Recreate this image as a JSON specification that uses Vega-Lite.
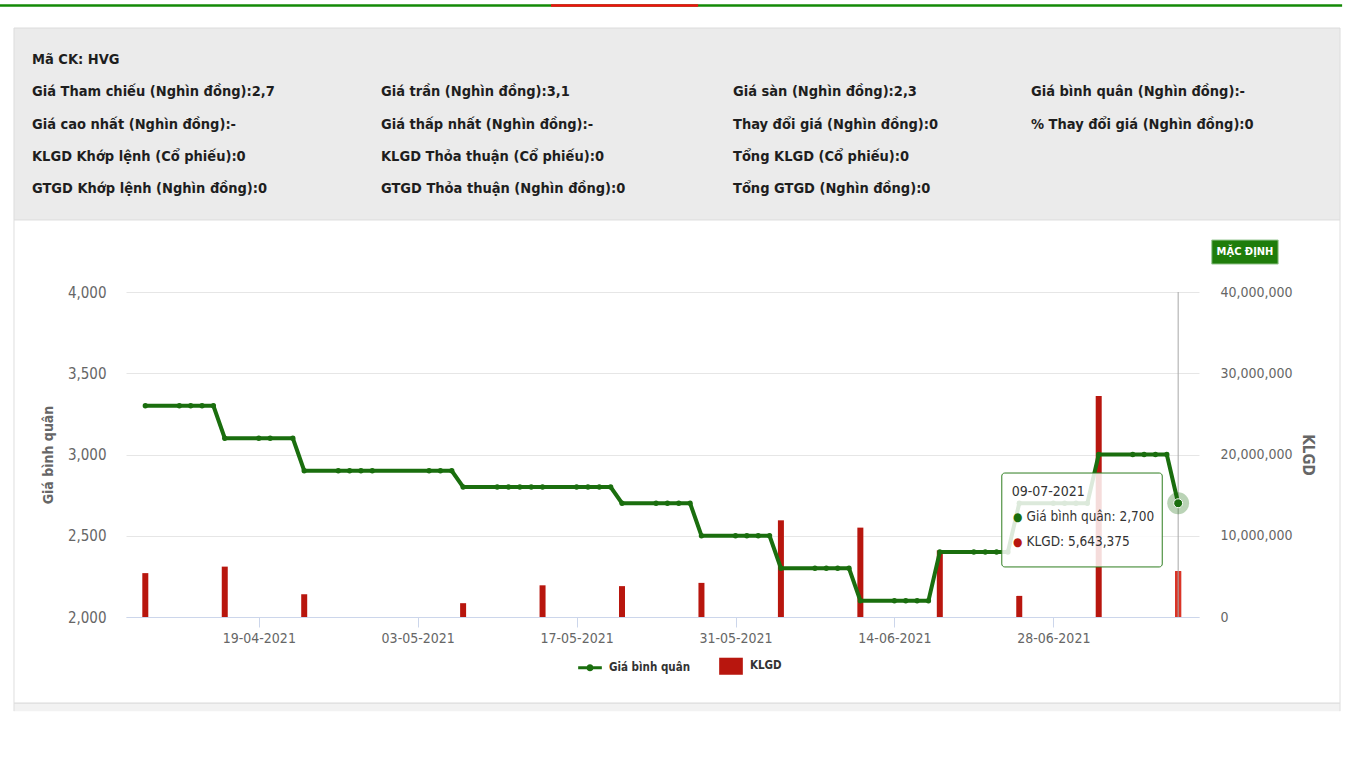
{
  "$schema": "https://vega.github.io/schema/vega-lite/v6.json",
  "width": 1073,
  "height": 325,
  "autosize": {"type": "none"},
  "padding": {"left": 126, "top": 292, "right": 167, "bottom": 151},
  "background": "white",
  "config": {
    "font": "Liberation Sans Narrow, DejaVu Sans Condensed, sans-serif",
    "view": {"stroke": null}
  },
  "datasets": {
    "trade": [
      {"date": "2021-04-09", "price": 3300, "volume": 5400000},
      {"date": "2021-04-12", "price": 3300, "volume": 0},
      {"date": "2021-04-13", "price": 3300, "volume": 0},
      {"date": "2021-04-14", "price": 3300, "volume": 0},
      {"date": "2021-04-15", "price": 3300, "volume": 0},
      {"date": "2021-04-16", "price": 3100, "volume": 6200000},
      {"date": "2021-04-19", "price": 3100, "volume": 0},
      {"date": "2021-04-20", "price": 3100, "volume": 0},
      {"date": "2021-04-22", "price": 3100, "volume": 0},
      {"date": "2021-04-23", "price": 2900, "volume": 2800000},
      {"date": "2021-04-26", "price": 2900, "volume": 0},
      {"date": "2021-04-27", "price": 2900, "volume": 0},
      {"date": "2021-04-28", "price": 2900, "volume": 0},
      {"date": "2021-04-29", "price": 2900, "volume": 0},
      {"date": "2021-05-04", "price": 2900, "volume": 0},
      {"date": "2021-05-05", "price": 2900, "volume": 0},
      {"date": "2021-05-06", "price": 2900, "volume": 0},
      {"date": "2021-05-07", "price": 2800, "volume": 1700000},
      {"date": "2021-05-10", "price": 2800, "volume": 0},
      {"date": "2021-05-11", "price": 2800, "volume": 0},
      {"date": "2021-05-12", "price": 2800, "volume": 0},
      {"date": "2021-05-13", "price": 2800, "volume": 0},
      {"date": "2021-05-14", "price": 2800, "volume": 3900000},
      {"date": "2021-05-17", "price": 2800, "volume": 0},
      {"date": "2021-05-18", "price": 2800, "volume": 0},
      {"date": "2021-05-19", "price": 2800, "volume": 0},
      {"date": "2021-05-20", "price": 2800, "volume": 0},
      {"date": "2021-05-21", "price": 2700, "volume": 3800000},
      {"date": "2021-05-24", "price": 2700, "volume": 0},
      {"date": "2021-05-25", "price": 2700, "volume": 0},
      {"date": "2021-05-26", "price": 2700, "volume": 0},
      {"date": "2021-05-27", "price": 2700, "volume": 0},
      {"date": "2021-05-28", "price": 2500, "volume": 4200000},
      {"date": "2021-05-31", "price": 2500, "volume": 0},
      {"date": "2021-06-01", "price": 2500, "volume": 0},
      {"date": "2021-06-02", "price": 2500, "volume": 0},
      {"date": "2021-06-03", "price": 2500, "volume": 0},
      {"date": "2021-06-04", "price": 2300, "volume": 11900000},
      {"date": "2021-06-07", "price": 2300, "volume": 0},
      {"date": "2021-06-08", "price": 2300, "volume": 0},
      {"date": "2021-06-09", "price": 2300, "volume": 0},
      {"date": "2021-06-10", "price": 2300, "volume": 0},
      {"date": "2021-06-11", "price": 2100, "volume": 11000000},
      {"date": "2021-06-14", "price": 2100, "volume": 0},
      {"date": "2021-06-15", "price": 2100, "volume": 0},
      {"date": "2021-06-16", "price": 2100, "volume": 0},
      {"date": "2021-06-17", "price": 2100, "volume": 0},
      {"date": "2021-06-18", "price": 2400, "volume": 8200000},
      {"date": "2021-06-21", "price": 2400, "volume": 0},
      {"date": "2021-06-22", "price": 2400, "volume": 0},
      {"date": "2021-06-23", "price": 2400, "volume": 0},
      {"date": "2021-06-24", "price": 2400, "volume": 0},
      {"date": "2021-06-25", "price": 2700, "volume": 2600000},
      {"date": "2021-06-28", "price": 2700, "volume": 0},
      {"date": "2021-06-29", "price": 2700, "volume": 0},
      {"date": "2021-06-30", "price": 2700, "volume": 0},
      {"date": "2021-07-01", "price": 2700, "volume": 0},
      {"date": "2021-07-02", "price": 3000, "volume": 27200000},
      {"date": "2021-07-05", "price": 3000, "volume": 0},
      {"date": "2021-07-06", "price": 3000, "volume": 0},
      {"date": "2021-07-07", "price": 3000, "volume": 0},
      {"date": "2021-07-08", "price": 3000, "volume": 0},
      {"date": "2021-07-09", "price": 2700, "volume": 5643375}
    ],
    "header": [
      {"row": 0, "col": 0, "label": "Mã CK: HVG"},
      {"row": 1, "col": 0, "label": "Giá Tham chiếu (Nghìn đồng):2,7"},
      {"row": 1, "col": 1, "label": "Giá trần (Nghìn đồng):3,1"},
      {"row": 1, "col": 2, "label": "Giá sàn (Nghìn đồng):2,3"},
      {"row": 1, "col": 3, "label": "Giá bình quân (Nghìn đồng):-"},
      {"row": 2, "col": 0, "label": "Giá cao nhất (Nghìn đồng):-"},
      {"row": 2, "col": 1, "label": "Giá thấp nhất (Nghìn đồng):-"},
      {"row": 2, "col": 2, "label": "Thay đổi giá (Nghìn đồng):0"},
      {"row": 2, "col": 3, "label": "% Thay đổi giá (Nghìn đồng):0"},
      {"row": 3, "col": 0, "label": "KLGD Khớp lệnh (Cổ phiếu):0"},
      {"row": 3, "col": 1, "label": "KLGD Thỏa thuận (Cổ phiếu):0"},
      {"row": 3, "col": 2, "label": "Tổng KLGD (Cổ phiếu):0"},
      {"row": 4, "col": 0, "label": "GTGD Khớp lệnh (Nghìn đồng):0"},
      {"row": 4, "col": 1, "label": "GTGD Thỏa thuận (Nghìn đồng):0"},
      {"row": 4, "col": 2, "label": "Tổng GTGD (Nghìn đồng):0"}
    ]
  },
  "layer": [
    {
      "data": {"name": "header"},
      "layer": [
        {
          "data": {"values": [{}]},
          "mark": {"type": "rect", "fill": "#ebebeb", "stroke": "#dcdcdc", "strokeWidth": 1, "clip": false},
          "encoding": {
            "x": {"datum": -0.0516, "type": "quantitative", "axis": null},
            "x2": {"datum": 4.037},
            "y": {"datum": -0.992, "type": "quantitative", "axis": null},
            "y2": {"datum": 4.96}
          }
        },
        {
          "data": {"values": [{}]},
          "mark": {"type": "rule", "color": "#138a07", "strokeWidth": 2.5, "clip": false},
          "encoding": {
            "x": {"datum": -0.0917, "type": "quantitative", "axis": null},
            "x2": {"datum": 4.044},
            "y": {"datum": -1.69, "type": "quantitative", "axis": null}
          }
        },
        {
          "data": {"values": [{}]},
          "mark": {"type": "rule", "color": "#f01010", "strokeWidth": 2.5, "clip": false},
          "encoding": {
            "x": {"datum": 1.483, "type": "quantitative", "axis": null},
            "x2": {"datum": 1.901},
            "y": {"datum": -1.69, "type": "quantitative", "axis": null}
          }
        },
        {
          "data": {"values": [{}]},
          "mark": {"type": "rect", "fill": "#f2f2f2", "clip": false},
          "encoding": {
            "x": {"datum": -0.0516, "type": "quantitative", "axis": null},
            "x2": {"datum": 4.037},
            "y": {"datum": 19.94, "type": "quantitative", "axis": null},
            "y2": {"datum": 20.19}
          }
        },
        {
          "data": {"values": [{}]},
          "mark": {"type": "rule", "color": "#d6d6d6", "strokeWidth": 1, "clip": false},
          "encoding": {
            "x": {"datum": -0.0516, "type": "quantitative", "axis": null},
            "x2": {"datum": 4.037},
            "y": {"datum": 19.94, "type": "quantitative", "axis": null}
          }
        },
        {
          "data": {"values": [{}]},
          "mark": {"type": "rule", "color": "#dedede", "strokeWidth": 1, "clip": false},
          "encoding": {
            "x": {"datum": -0.0516, "type": "quantitative", "axis": null},
            "y": {"datum": 4.96, "type": "quantitative", "axis": null},
            "y2": {"datum": 20.19}
          }
        },
        {
          "data": {"values": [{}]},
          "mark": {"type": "rule", "color": "#dedede", "strokeWidth": 1, "clip": false},
          "encoding": {
            "x": {"datum": 4.037, "type": "quantitative", "axis": null},
            "y": {"datum": 4.96, "type": "quantitative", "axis": null},
            "y2": {"datum": 20.19}
          }
        },
        {
          "mark": {"type": "text", "align": "left", "baseline": "middle", "fontSize": 14.5, "fontWeight": "bold", "color": "#1e1e1e", "clip": false},
          "encoding": {
            "x": {"field": "col", "type": "quantitative", "axis": null,
                  "scale": {"domain": [0, 1, 2, 3], "range": [-94, 255, 607, 905], "zero": false, "nice": false}},
            "y": {"field": "row", "type": "quantitative", "axis": null,
                  "scale": {"domain": [0, 4], "range": [-232, -103], "zero": false, "nice": false}},
            "text": {"field": "label"}
          }
        }
      ]
    },
    {
      "data": {"name": "trade"},
      "layer": [
        {
          "layer": [
            {
              "transform": [{"filter": "datum.volume > 0"}],
              "mark": {"type": "bar", "size": 6},
              "encoding": {
                "x": {"field": "date", "type": "temporal",
                      "scale": {"type": "utc", "domain": [{"year": 2021, "month": 4, "date": 7, "hours": 17, "minutes": 45, "utc": true}, {"year": 2021, "month": 7, "date": 10, "hours": 9, "minutes": 30, "utc": true}]},
                      "axis": {"title": null, "format": "%d-%m-%Y", "grid": false, "tickColor": "#ccd6eb", "tickSize": 10, "domainColor": "#ccd6eb", "labelFontSize": 14, "labelColor": "#666666", "labelPadding": 4, "labelFlush": false, "labelOverlap": false,
                               "values": [{"year": 2021, "month": 4, "date": 19, "utc": true}, {"year": 2021, "month": 5, "date": 3, "utc": true}, {"year": 2021, "month": 5, "date": 17, "utc": true}, {"year": 2021, "month": 5, "date": 31, "utc": true}, {"year": 2021, "month": 6, "date": 14, "utc": true}, {"year": 2021, "month": 6, "date": 28, "utc": true}]}},
                "y": {"field": "volume", "type": "quantitative",
                      "scale": {"domain": [0, 40000000], "nice": false},
                      "axis": {"orient": "right", "values": [0, 10000000, 20000000, 30000000, 40000000], "format": ",.0f", "grid": false, "domain": false, "ticks": false, "labelPadding": 21, "labelFontSize": 14, "labelColor": "#666666", "title": "KLGD", "titleFontSize": 15, "titleFontWeight": "bold", "titleColor": "#666666", "titlePadding": 7}},
                "color": {"datum": "KLGD", "type": "nominal",
                          "scale": {"domain": ["Giá bình quân", "KLGD"], "range": ["#1a6e0e", "#b8160e"]},
                          "legend": {"orient": "none", "legendX": 452, "legendY": 362, "direction": "horizontal", "title": null, "symbolSize": 560, "labelFontSize": 11.5, "labelFontWeight": "bold", "labelColor": "#333333", "labelOffset": 7, "columnPadding": 28, "symbolStrokeWidth": 0,
                                     "encode": {"symbols": {"update": {
                                       "shape": {"signal": "datum.value === 'KLGD' ? 'M-1,-0.72H1V0.72H-1Z' : 'M-1,-0.13H1V0.13H-1Z M0.3,0A0.3,0.3,0,1,1,-0.3,0A0.3,0.3,0,1,1,0.3,0Z'"},
                                       "fill": {"signal": "datum.value === 'KLGD' ? '#b8160e' : '#1a6e0e'"},
                                       "stroke": {"value": "transparent"},
                                       "opacity": {"value": 1}
                                     }}}}}
              }
            },
            {
              "transform": [{"filter": {"field": "date", "equal": {"year": 2021, "month": 7, "date": 9, "utc": true}}}],
              "mark": {"type": "bar", "size": 6, "color": "#dc3426"},
              "encoding": {
                "x": {"field": "date", "type": "temporal"},
                "y": {"field": "volume", "type": "quantitative"}
              }
            }
          ]
        },
        {
          "layer": [
            {
              "transform": [{"filter": {"field": "date", "equal": {"year": 2021, "month": 7, "date": 9, "utc": true}}}],
              "mark": {"type": "rule", "color": "#a8a8a8", "strokeWidth": 1},
              "encoding": {
                "x": {"field": "date", "type": "temporal"},
                "y": {"datum": 4000, "type": "quantitative"},
                "y2": {"datum": 2000}
              }
            },
            {
              "mark": {"type": "line", "strokeWidth": 4, "point": {"filled": true, "size": 28}},
              "encoding": {
                "x": {"field": "date", "type": "temporal",
                      "scale": {"type": "utc", "domain": [{"year": 2021, "month": 4, "date": 7, "hours": 17, "minutes": 45, "utc": true}, {"year": 2021, "month": 7, "date": 10, "hours": 9, "minutes": 30, "utc": true}]}},
                "y": {"field": "price", "type": "quantitative",
                      "scale": {"domain": [2000, 4000], "nice": false, "zero": false},
                      "axis": {"orient": "left", "values": [2000, 2500, 3000, 3500, 4000], "format": ",.0f", "grid": true, "gridColor": "#e6e6e6", "domain": false, "ticks": false, "labelPadding": 20, "labelFontSize": 15, "labelColor": "#666666", "title": "Giá bình quân", "titleFontSize": 14, "titleFontWeight": "bold", "titleColor": "#666666", "titlePadding": 12}},
                "color": {"datum": "Giá bình quân", "type": "nominal",
                          "scale": {"domain": ["Giá bình quân", "KLGD"], "range": ["#1a6e0e", "#b8160e"]}}
              }
            },
            {
              "transform": [{"filter": {"field": "date", "equal": {"year": 2021, "month": 7, "date": 9, "utc": true}}}],
              "mark": {"type": "point", "filled": true, "size": 480, "color": "#1a6e0e", "opacity": 0.3},
              "encoding": {
                "x": {"field": "date", "type": "temporal"},
                "y": {"field": "price", "type": "quantitative"}
              }
            },
            {
              "transform": [{"filter": {"field": "date", "equal": {"year": 2021, "month": 7, "date": 9, "utc": true}}}],
              "mark": {"type": "point", "filled": true, "size": 80, "color": "#1a6e0e", "opacity": 1, "stroke": "white", "strokeWidth": 1},
              "encoding": {
                "x": {"field": "date", "type": "temporal"},
                "y": {"field": "price", "type": "quantitative"}
              }
            },
            {
              "data": {"values": [{}]},
              "mark": {"type": "rect", "fill": "white", "fillOpacity": 0.85, "stroke": "#2e7d1f", "strokeWidth": 1, "cornerRadius": 3, "clip": false},
              "encoding": {
                "x": {"datum": {"year": 2021, "month": 6, "date": 23, "hours": 11, "minutes": 3, "utc": true}, "type": "temporal"},
                "x2": {"datum": {"year": 2021, "month": 7, "date": 7, "hours": 14, "minutes": 21, "utc": true}},
                "y": {"datum": 2886, "type": "quantitative"},
                "y2": {"datum": 2308}
              }
            },
            {
              "data": {"values": [{}]},
              "mark": {"type": "text", "text": "09-07-2021", "align": "left", "baseline": "middle", "fontSize": 14, "color": "#333333", "clip": false},
              "encoding": {
                "x": {"datum": {"year": 2021, "month": 6, "date": 24, "hours": 7, "minutes": 57, "utc": true}, "type": "temporal"},
                "y": {"datum": 2769, "type": "quantitative"}
              }
            },
            {
              "data": {"values": [{}]},
              "mark": {"type": "text", "text": "●", "align": "center", "baseline": "middle", "fontSize": 12, "color": "#1a6e0e", "clip": false},
              "encoding": {
                "x": {"datum": {"year": 2021, "month": 6, "date": 24, "hours": 20, "minutes": 40, "utc": true}, "type": "temporal"},
                "y": {"datum": 2615, "type": "quantitative"}
              }
            },
            {
              "data": {"values": [{}]},
              "mark": {"type": "text", "text": "●", "align": "center", "baseline": "middle", "fontSize": 12, "color": "#b8160e", "clip": false},
              "encoding": {
                "x": {"datum": {"year": 2021, "month": 6, "date": 24, "hours": 20, "minutes": 40, "utc": true}, "type": "temporal"},
                "y": {"datum": 2462, "type": "quantitative"}
              }
            },
            {
              "data": {"values": [{}]},
              "mark": {"type": "text", "text": "Giá bình quân: 2,700", "align": "left", "baseline": "middle", "fontSize": 13.5, "color": "#333333", "clip": false},
              "encoding": {
                "x": {"datum": {"year": 2021, "month": 6, "date": 25, "hours": 15, "minutes": 20, "utc": true}, "type": "temporal"},
                "y": {"datum": 2615, "type": "quantitative"}
              }
            },
            {
              "data": {"values": [{}]},
              "mark": {"type": "text", "text": "KLGD: 5,643,375", "align": "left", "baseline": "middle", "fontSize": 13.5, "color": "#333333", "clip": false},
              "encoding": {
                "x": {"datum": {"year": 2021, "month": 6, "date": 25, "hours": 15, "minutes": 20, "utc": true}, "type": "temporal"},
                "y": {"datum": 2462, "type": "quantitative"}
              }
            },
            {
              "data": {"values": [{}]},
              "mark": {"type": "rect", "fill": "#1f7d0b", "stroke": "#9bc996", "strokeWidth": 1, "clip": false},
              "encoding": {
                "x": {"datum": {"year": 2021, "month": 7, "date": 11, "hours": 23, "minutes": 5, "utc": true}, "type": "temporal"},
                "x2": {"datum": {"year": 2021, "month": 7, "date": 17, "hours": 19, "minutes": 25, "utc": true}},
                "y": {"datum": 4320, "type": "quantitative"},
                "y2": {"datum": 4172}
              }
            },
            {
              "data": {"values": [{}]},
              "mark": {"type": "text", "text": "MẶC ĐỊNH", "align": "center", "baseline": "middle", "fontSize": 11, "fontWeight": "bold", "color": "white", "clip": false},
              "encoding": {
                "x": {"datum": {"year": 2021, "month": 7, "date": 14, "hours": 21, "minutes": 20, "utc": true}, "type": "temporal"},
                "y": {"datum": 4246, "type": "quantitative"}
              }
            }
          ]
        }
      ],
      "resolve": {"scale": {"y": "independent"}}
    }
  ],
  "resolve": {"scale": {"x": "independent", "y": "independent"}}
}
